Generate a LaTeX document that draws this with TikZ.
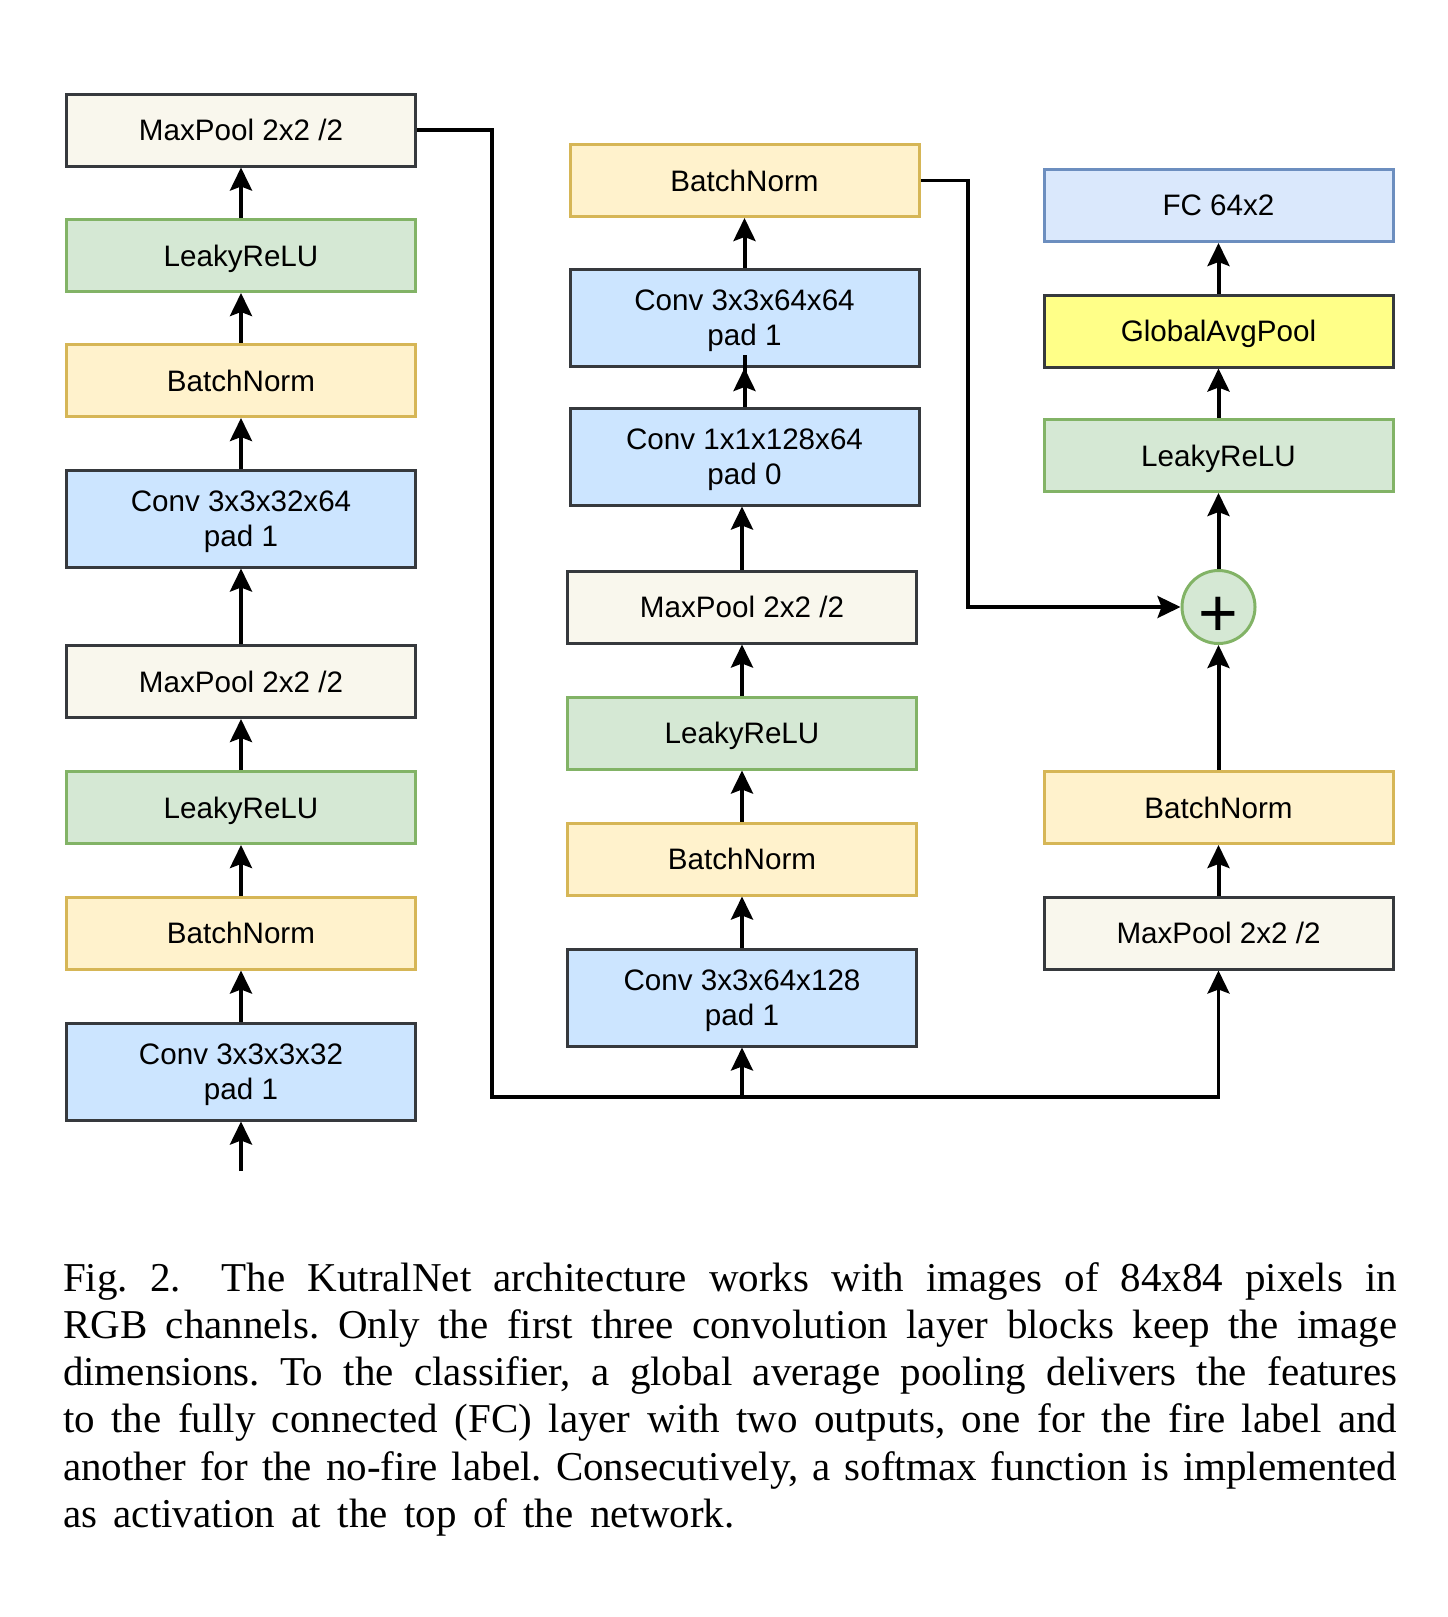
\documentclass[tikz,border=0pt]{standalone}
\usepackage{fontspec}
\setmainfont{Liberation Serif}
\newfontfamily\diagfont{Liberation Sans}
\usetikzlibrary{arrows.meta,calc}
\definecolor{dk}{HTML}{36393D}
\definecolor{mpfill}{HTML}{F9F7ED}
\definecolor{lrfill}{HTML}{D5E8D4}
\definecolor{lrdraw}{HTML}{82B366}
\definecolor{bnfill}{HTML}{FFF2CC}
\definecolor{bndraw}{HTML}{D6B656}
\definecolor{cvfill}{HTML}{CCE5FF}
\definecolor{fcfill}{HTML}{DAE8FC}
\definecolor{fcdraw}{HTML}{6C8EBF}
\definecolor{gapfill}{HTML}{FFFF88}
\begin{document}
\begin{tikzpicture}[x=0.5pt,y=-0.5pt,
  box/.style={line width=1.5pt, minimum width=174.5pt, minimum height=36pt, inner sep=0pt, align=center,
    font=\diagfont\fontsize{14.8pt}{17.5pt}\selectfont, text depth=0pt},
  mp/.style={box, draw=dk, fill=mpfill},
  lr/.style={box, draw=lrdraw, fill=lrfill},
  bn/.style={box, draw=bndraw, fill=bnfill},
  conv/.style={box, draw=dk, fill=cvfill, minimum height=48.5pt},
  fc/.style={box, draw=fcdraw, fill=fcfill},
  gapbox/.style={box, draw=dk, fill=gapfill},
  addc/.style={circle, line width=1.5pt, draw=lrdraw, fill=lrfill, minimum size=36.5pt, inner sep=0pt,
    font=\diagfont\fontsize{34pt}{34pt}\selectfont, text height=29pt, text depth=0pt},
  ln/.style={line width=2pt},
  arr/.style={line width=2pt, -{Stealth[length=11.5pt,width=11pt,inset=2pt]}},
  larr/.style={line width=1.6pt, -{Stealth[length=11.5pt,width=11pt,inset=2pt]}},
  caption/.style={anchor=base west, text width=667pt, align=justify, inner sep=0pt,
    font=\fontsize{20.5pt}{23.65pt}\selectfont}
]
\useasboundingbox (0,0) rectangle (1447,1617);
% left column
\node[mp] (LMP1) at (241,130) {MaxPool 2x2 /2};
\node[lr] (LLR1) at (241,255.5) {LeakyReLU};
\node[bn] (LBN1) at (241,380.5) {BatchNorm};
\node[conv] (LC2) at (241,518.5) {Conv 3x3x32x64\\pad 1};
\node[mp] (LMP0) at (241,681.5) {MaxPool 2x2 /2};
\node[lr] (LLR0) at (241,807.5) {LeakyReLU};
\node[bn] (LBN0) at (241,933) {BatchNorm};
\node[conv] (LC1) at (241,1071.5) {Conv 3x3x3x32\\pad 1};
\coordinate (in) at (241,1171);
% middle column
\node[bn] (MBN) at (744.5,180.5) {BatchNorm};
\node[conv] (MC64) at (744.5,318) {Conv 3x3x64x64\\pad 1};
\node[conv] (MC1) at (744.5,456.5) {Conv 1x1x128x64\\pad 0};
\node[mp] (MMP) at (742,607) {MaxPool 2x2 /2};
\node[lr] (MLR) at (742,733) {LeakyReLU};
\node[bn] (MBN0) at (742,859) {BatchNorm};
\node[conv] (MC128) at (742,997.5) {Conv 3x3x64x128\\pad 1};
% right column
\node[fc] (FC) at (1218.5,205.5) {FC 64x2};
\node[gapbox] (GAP) at (1218.5,331) {GlobalAvgPool};
\node[lr] (RLR) at (1218.5,455.5) {LeakyReLU};
\node[addc] (ADD) at (1218.5,607) {+};
\node[bn] (RBN) at (1218.5,807.5) {BatchNorm};
\node[mp] (RMP) at (1218.5,933) {MaxPool 2x2 /2};
% connectors left
\draw[arr] (in) -- (LC1);
\draw[arr] (LC1) -- (LBN0);
\draw[arr] (LBN0) -- (LLR0);
\draw[arr] (LLR0) -- (LMP0);
\draw[arr] (LMP0) -- (LC2);
\draw[arr] (LC2) -- (LBN1);
\draw[arr] (LBN1) -- (LLR1);
\draw[arr] (LLR1) -- (LMP1);
% skip / trunk
\coordinate (J) at (492,1097);
\draw[larr] (LMP1.east) -- (LMP1.east -| J) -- (J) -| (MC128.south);
\draw[larr] (J -| MC128.south) -| (RMP.south);
% middle
\draw[arr] (MC128) -- (MBN0);
\draw[arr] (MBN0) -- (MLR);
\draw[arr] (MLR) -- (MMP);
\draw[arr] (MMP.north) -- (MMP.north |- MC1.south);
\draw[arr] (MC1) -- (MC64);
\draw[ln] (MC1.north) -- ($(MC64.south)+(0,-13)$);
\draw[arr] (MC64) -- (MBN);
\coordinate (K) at (968,180.5);
\draw[larr] (MBN.east) -- (K) |- (ADD.west);
% right
\draw[arr] (RMP) -- (RBN);
\draw[arr] (RBN) -- (ADD);
\draw[arr] (ADD) -- (RLR);
\draw[arr] (RLR) -- (GAP);
\draw[arr] (GAP) -- (FC);
% caption
\node[caption] (cap) at (62.7,1291) {\frenchspacing\hyphenpenalty=10000
Fig.~2.\hskip1em The KutralNet architecture works with images of 84x84 pixels in\linebreak
RGB channels. Only the first three convolution layer blocks keep the image\linebreak
dimensions. To the classifier, a global average pooling delivers the features\linebreak
to the fully connected (FC) layer with two outputs, one for the fire label and\linebreak
another for the no-fire label. Consecutively, a softmax function is implemented\linebreak
{\spaceskip=0.4em\relax as activation at the top of the network.}};
\end{tikzpicture}
\end{document}
